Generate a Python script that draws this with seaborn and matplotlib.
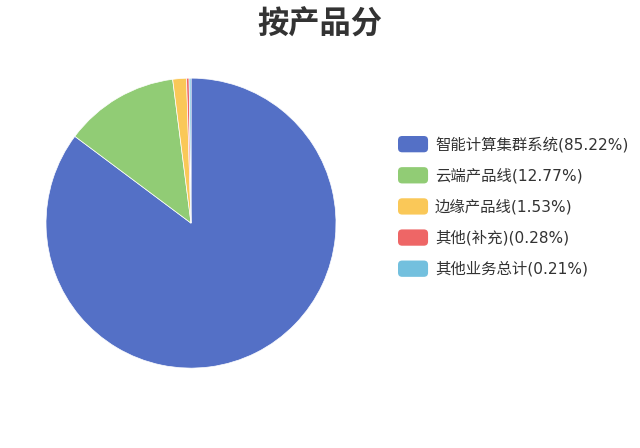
import matplotlib
matplotlib.use('Agg')
import matplotlib.pyplot as plt
import seaborn as sns
from matplotlib.legend_handler import HandlerPatch
from matplotlib.patches import FancyBboxPatch

# data
categories = ['智能计算集群系统', '云端产品线', '边缘产品线', '其他(补充)', '其他业务总计']
shares = [85.22, 12.77, 1.53, 0.28, 0.21]
colors = ['#5470c6', '#91cc75', '#fac858', '#ee6666', '#73c0de']
title = '按产品分'


class RoundBox(HandlerPatch):
    # legend swatch with rounded corners, like the echarts one
    def create_artists(self, legend, orig_handle, xdescent, ydescent,
                       width, height, fontsize, trans):
        p = FancyBboxPatch((-xdescent, -ydescent), width, height,
                           boxstyle='round,pad=0,rounding_size=3',
                           facecolor=orig_handle.get_facecolor(),
                           edgecolor='none', transform=trans)
        return [p]


sns.set_theme(style='white')
plt.rcParams['font.family'] = ['DejaVu Sans', 'Noto Sans CJK SC']

fig = plt.figure(figsize=(6.4, 4.48), dpi=100)
ax = fig.add_axes([0.0719, 0.1783, 0.4531, 0.6473])

wedges, _ = ax.pie(shares,
                   colors=sns.color_palette(colors),
                   startangle=90,
                   counterclock=False,
                   radius=1,
                   wedgeprops={'edgecolor': 'white', 'linewidth': 0.5})
ax.set_xlim(-1, 1)
ax.set_ylim(-1, 1)
ax.set_aspect('equal')
ax.axis('off')

labels = [f'{c}({v:.2f}%)' for c, v in zip(categories, shares)]
fig.legend(wedges, labels,
           handler_map={w: RoundBox() for w in wedges},
           loc='upper left',
           bbox_to_anchor=(398 / 640, 1 - 136 / 448),
           frameon=False,
           fontsize=11.1,
           handlelength=1.95,
           handleheight=1.25,
           handletextpad=0.45,
           labelspacing=0.96,
           borderpad=0,
           borderaxespad=0,
           labelcolor='#333333')

fig.text(0.5, 1 - 25 / 448, title, ha='center', va='center',
         fontsize=22.5, fontweight='bold', color='#333333',
         family=['Noto Sans CJK SC', 'DejaVu Sans'])

fig.savefig('out.png', dpi=100, facecolor='white')
